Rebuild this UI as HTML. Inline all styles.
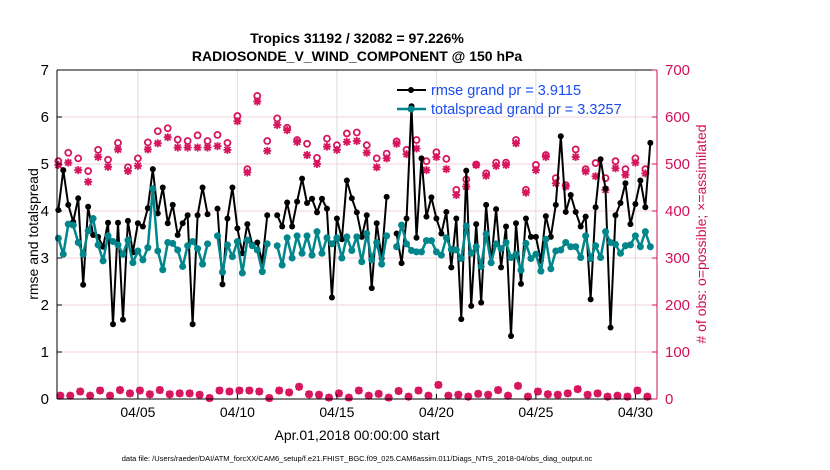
<!DOCTYPE html>
<html><head><meta charset="utf-8"><style>
body{margin:0;background:#fff;}
svg{display:block;font-family:"Liberation Sans",sans-serif;}
</style></head><body>
<svg id="chart" width="830" height="470">
<rect width="830" height="470" fill="#fff"/>
<g id="grid"></g>
<g id="series"></g>
<g id="axes"></g>
<text x="357" y="43" text-anchor="middle" font-size="14" font-weight="bold">Tropics 31192 / 32082 = 97.226%</text>
<text x="357" y="61" text-anchor="middle" font-size="14" font-weight="bold">RADIOSONDE_V_WIND_COMPONENT @ 150 hPa</text>
<text transform="translate(38,234) rotate(-90)" text-anchor="middle" font-size="14">rmse and totalspread</text>
<text transform="translate(706,234) rotate(-90)" text-anchor="middle" font-size="14" fill="#d1105a"># of obs: o=possible; ×=assimilated</text>
<text x="357" y="440" text-anchor="middle" font-size="14">Apr.01,2018 00:00:00 start</text>
<text x="357" y="461" text-anchor="middle" font-size="7.5">data file: /Users/raeder/DAI/ATM_forcXX/CAM6_setup/f.e21.FHIST_BGC.f09_025.CAM6assim.011/Diags_NTrS_2018-04/obs_diag_output.nc</text>
<g>
<line x1="397" y1="90" x2="426" y2="90" stroke="#000" stroke-width="2"/>
<circle cx="411" cy="90" r="3" fill="#000"/>
<text x="431" y="95" font-size="14.5" fill="#1a4cf0">rmse grand pr = 3.9115</text>
<line x1="397" y1="109" x2="426" y2="109" stroke="#00868b" stroke-width="2.5"/>
<circle cx="411" cy="109" r="3.5" fill="#00868b"/>
<text x="431" y="114" font-size="14.5" fill="#1a4cf0">totalspread grand pr = 3.3257</text>
</g>
</svg>
<script>
const rmse=[4.02,4.87,4.13,3.77,4.27,2.43,4.09,3.49,3.45,3.24,3.75,1.59,3.75,1.69,3.79,3.12,3.74,3.67,4.06,4.89,3.95,4.50,3.74,4.13,3.49,3.74,3.91,1.59,3.91,4.50,3.93,
null,4.05,2.44,3.84,4.50,3.63,3.10,3.72,3.28,3.33,2.92,3.91,
null,3.91,3.67,4.18,3.67,4.20,4.69,4.17,4.26,3.97,4.26,4.05,2.16,3.84,3.40,4.65,4.27,3.97,
3.45,3.91,2.36,3.74,2.99,4.30,
null,3.52,2.89,3.84,6.23,3.43,5.12,3.88,4.29,3.84,3.52,3.98,2.80,3.84,1.70,4.86,1.98,3.72,2.05,4.13,2.89,4.04,2.80,3.67,
1.34,3.74,2.45,3.84,3.45,3.45,2.94,3.89,3.45,4.13,5.59,3.98,4.34,3.98,3.67,3.88,2.12,4.08,5.10,4.48,1.52,3.91,4.17,4.59,3.72,4.15,4.65,4.08,5.45];
const spread=[3.42,3.08,3.72,3.70,3.33,3.08,3.58,3.84,3.28,2.94,3.47,3.35,3.28,3.08,3.38,2.90,3.15,2.96,3.22,4.47,3.15,2.75,3.33,3.31,3.17,2.82,3.26,3.35,3.20,2.87,3.30,
null,3.47,2.70,3.28,3.03,3.35,2.68,3.38,3.26,3.17,2.71,3.30,
null,3.26,2.85,3.43,3.00,3.47,3.10,3.47,3.06,3.56,3.10,3.43,3.30,3.43,3.00,3.45,3.16,3.45,
2.92,3.52,2.96,3.33,2.87,3.47,
null,3.24,3.70,3.30,3.16,3.13,3.13,3.37,3.37,3.13,3.06,3.43,3.18,3.17,2.99,3.68,3.10,3.24,2.82,3.51,2.90,3.30,
3.20,3.33,3.01,3.08,2.74,3.31,2.99,3.08,2.72,3.40,2.77,3.15,3.17,3.33,3.24,3.24,3.01,3.47,2.99,3.26,3.01,3.56,3.33,3.29,3.10,3.26,3.28,3.47,3.24,3.56,3.24];
const obsPossible=[506,524,512,485,530,509,545,493,512,546,570,576,552,549,561,549,562,545,602,489,645,549,597,577,551,543,513,554,540,565,567,540,512,522,548,530,551,506,525,511,445,467,499,480,503,503,551,445,498,519,470,455,531,489,502,470,506,489,512,489];
const obsAssim=[498,503,487,462,515,494,531,485,496,531,544,557,535,535,535,535,538,530,591,482,633,528,583,572,547,519,500,537,530,547,549,524,493,512,543,521,533,487,515,489,434,452,498,475,496,498,544,439,487,515,459,452,515,484,474,445,491,477,503,480];
const obsLow=[7,7,16,7,18,7,19,12,18,10,19,10,12,12,9,2,18,16,18,18,16,2,18,14,26,10,9,3,12,3,18,7,11,3,17,5,18,7,30,7,9,5,11,9,19,7,28,5,16,10,9,12,21,9,12,5,7,5,18,5];
const leftTicks=[0,1,2,3,4,5,6,7];
const rightTicks=[0,100,200,300,400,500,600,700];
const dateTicks=[4,9,14,19,24,29];
const dateLabels=["04/05","04/10","04/15","04/20","04/25","04/30"];

const L=57,R=657,T=70,B=399;
const x=t=>58.3+t*19.9;
const y=v=>B-(v/7)*(B-T);
const yr=c=>B-(c/700)*(B-T);
const NS="http://www.w3.org/2000/svg";
function mk(tag,parent,attrs){const e=document.createElementNS(NS,tag);for(const k in attrs)e.setAttribute(k,attrs[k]);parent.appendChild(e);return e;}
const grid=document.getElementById('grid'),series=document.getElementById('series'),axes=document.getElementById('axes');

rightTicks.forEach(c=>{const l=mk('line',grid,{x1:L,x2:R,y1:yr(c),y2:yr(c),stroke:'#f3d3df','stroke-width':1});

});
dateTicks.forEach(d=>{const l=mk('line',grid,{x1:x(d),x2:x(d),y1:T,y2:B,stroke:'#dcdcdc','stroke-width':1});

});

function drawLine(arr,color,w,r,name){
  let d='';let pen=false;
  arr.forEach((v,i)=>{if(v==null){pen=false;return;}d+=(pen?'L':'M')+x(i/4).toFixed(1)+','+y(v).toFixed(1);pen=true;});
  const p=mk('path',series,{d:d,fill:'none',stroke:color,'stroke-width':w,'stroke-linejoin':'round'});
  
  
  arr.forEach((v,i)=>{if(v==null)return;const c=mk('circle',series,{cx:x(i/4),cy:y(v),r:r,fill:color});
  
  });
}
function star(cx,cy,name){
  const g=mk('g',series,{stroke:'#d6165e','stroke-width':1.8});
  
  
  const s=4;
  mk('line',g,{x1:cx-s,y1:cy,x2:cx+s,y2:cy});mk('line',g,{x1:cx,y1:cy-s,x2:cx,y2:cy+s});
  mk('line',g,{x1:cx-3,y1:cy-3,x2:cx+3,y2:cy+3});mk('line',g,{x1:cx-3,y1:cy+3,x2:cx+3,y2:cy-3});
  mk('circle',g,{cx:cx,cy:cy,r:1.8,fill:'#d6165e'});
}
function ring(cx,cy,name){const c=mk('circle',series,{cx:cx,cy:cy,r:3,fill:'#fff',stroke:'#d6165e','stroke-width':1.8});

}
obsPossible.forEach((c,i)=>ring(x(i/2),yr(c),'obs-possible-marker'));
obsAssim.forEach((c,i)=>star(x(i/2),yr(c),'obs-assimilated-marker'));
obsLow.forEach((c,i)=>{ring(x(i/2)+2,yr(c),'obs-low-possible-marker');star(x(i/2)+2,yr(c),'obs-low-assimilated-marker');});

drawLine(rmse,'#000',2,3,'rmse');
drawLine(spread,'#00868b',2.5,3.5,'totalspread');

const ax=(a)=>mk('line',axes,a);
let e=ax({x1:L,x2:L,y1:T,y2:B,stroke:'#000','stroke-width':1});


e=ax({x1:L,x2:R,y1:B,y2:B,stroke:'#000','stroke-width':1});


e=ax({x1:L,x2:R,y1:T,y2:T,stroke:'#000','stroke-width':1});


e=ax({x1:R,x2:R,y1:T,y2:B,stroke:'#d1105a','stroke-width':1});


leftTicks.forEach(v=>{ax({x1:L,x2:L+5,y1:y(v),y2:y(v),stroke:'#000'});
const t=mk('text',axes,{x:L-8,y:y(v)+5,'text-anchor':'end','font-size':15});t.textContent=v;

});
rightTicks.forEach(c=>{ax({x1:R-5,x2:R,y1:yr(c),y2:yr(c),stroke:'#d1105a'});
const t=mk('text',axes,{x:R+8,y:yr(c)+5,'font-size':15,fill:'#d1105a'});t.textContent=c;

});
dateTicks.forEach((d,i)=>{ax({x1:x(d),x2:x(d),y1:B,y2:B-5,stroke:'#000'});
const t=mk('text',axes,{x:x(d),y:B+18,'text-anchor':'middle','font-size':14});t.textContent=dateLabels[i];

});
</script>
</body></html>
